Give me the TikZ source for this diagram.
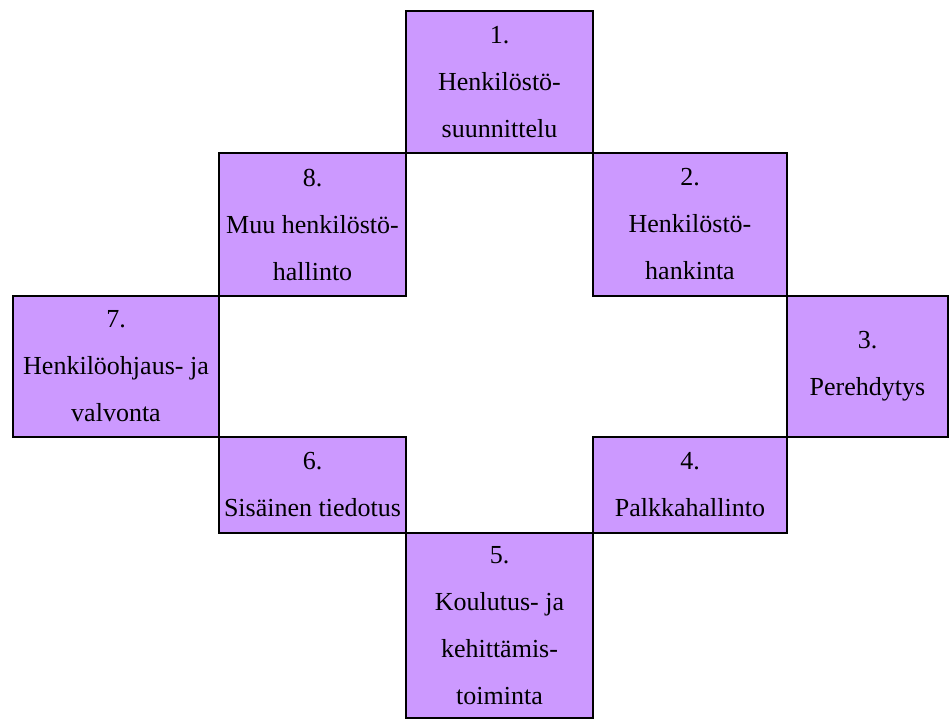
\documentclass[tikz,border=0pt]{standalone}
\usepackage{fontspec}
\setmainfont{Liberation Serif}
\usetikzlibrary{positioning}
\definecolor{lila}{HTML}{CC99FF}

\begin{document}
\begin{tikzpicture}[
    x=1pt, y=1pt,
    box/.style = {draw, line width=1.2pt, fill=lila, outer sep=0pt, inner sep=0pt, align=center, font=\fontsize{26}{47}\selectfont},
    node distance=0pt
  ]
  \useasboundingbox (0,0) rectangle (949,-720);

  % 1. Henkilöstösuunnittelu (ylin)
  \node[box, minimum width=187pt, minimum height=142pt] (suunn) at (499.5,-82) {1.\\Henkilöstö-\\suunnittelu};

  % 2. - 4. oikea puoli
  \node[box, below right=of suunn, minimum width=194pt, minimum height=143pt] (hank) {2.\\Henkilöstö-\\hankinta};
  \node[box, below right=of hank, minimum width=161pt, minimum height=141pt] (pereh) {3.\\Perehdytys};
  \node[box, below left=of pereh, minimum width=194pt, minimum height=96pt] (palkka) {4.\\Palkkahallinto};

  % 5. Koulutus (alin)
  \node[box, below left=of palkka, minimum width=187pt, minimum height=185pt] (koul) {5.\\Koulutus- ja\\kehittämis-\\toiminta};

  % 6. - 8. vasen puoli
  \node[box, above left=of koul, minimum width=187pt, minimum height=96pt] (tiedotus) {6.\\Sisäinen tiedotus};
  \node[box, above left=of tiedotus, minimum width=206pt, minimum height=141pt] (ohjaus) {7.\\Henkilöohjaus- ja\\valvonta};
  \node[box, above right=of ohjaus, minimum width=187pt, minimum height=143pt] (muu) {8.\\Muu henkilöstö-\\hallinto};

\end{tikzpicture}
\end{document}
